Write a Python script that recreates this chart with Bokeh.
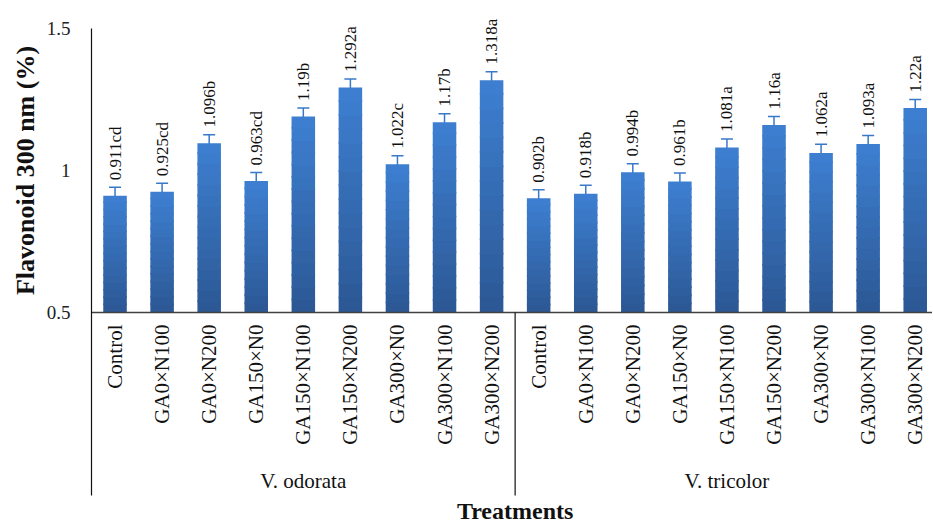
import numpy as np
from math import pi
from bokeh.plotting import figure
from bokeh.models import ColumnDataSource, Whisker, TeeHead, Range1d
from bokeh.core.properties import value
from bokeh.embed import file_html
from bokeh.resources import INLINE

# ---------------- data ----------------
groups = ["V. odorata", "V. tricolor"]
treatments = ["Control", "GA0×N100", "GA0×N200", "GA150×N0", "GA150×N100",
              "GA150×N200", "GA300×N0", "GA300×N100", "GA300×N200"]
odorata_values = [0.911, 0.925, 1.096, 0.963, 1.19, 1.292, 1.022, 1.17, 1.318]
tricolor_values = [0.902, 0.918, 0.994, 0.961, 1.081, 1.16, 1.062, 1.093, 1.22]
odorata_letters = ["cd", "cd", "b", "cd", "b", "a", "c", "b", "a"]
tricolor_letters = ["b", "b", "b", "b", "a", "a", "a", "a", "a"]
odorata_err = [0.03] * 9
tricolor_err = [0.03] * 9
y_ticks = [0.5, 1.0, 1.5]
y_tick_labels = ["0.5", "1", "1.5"]
x_title = "Treatments"
y_title = "Flavonoid 300 nm (%)"

# ---------------- layout constants (pixels) ----------------
W, H = 932, 524
frame_left_px = 91          # y-axis position
px_per_x = 47.07            # pixels per category
px_per_y = 284.0            # pixels per unit of y
axis_px = 312               # pixel row of y = 0.5
base = 0.5

x0 = -frame_left_px / px_per_x
x1 = x0 + W / px_per_x
y_top = base + axis_px / px_per_y
y_bot = y_top - H / px_per_y


def ypix(py):
    """data y for a pixel row measured from the top of the canvas"""
    return base - (py - axis_px) / px_per_y


def xpix(px):
    return (px - frame_left_px) / px_per_x


FONT = "Liberation Serif"
TXT = "#111111"

values = np.array(odorata_values + tricolor_values)
errs = np.array(odorata_err + tricolor_err)
letters = odorata_letters + tricolor_letters
cats = treatments + treatments
n = len(values)
x = np.arange(n) + 0.5
sep = len(odorata_values)
axis_bottom = ypix(495)

p = figure(width=W, height=H, x_range=Range1d(x0, x1),
           y_range=Range1d(y_bot, y_top), output_backend="svg",
           toolbar_location=None, x_axis_location=None, y_axis_location=None,
           min_border=0)
p.outline_line_color = None
p.grid.visible = False
p.background_fill_color = "white"
p.border_fill_color = "white"

# gradient bars (stacked, overlapping slices from dark bottom to light top)
N = 16
top_rgb = np.array([62, 128, 210])
bot_rgb = np.array([44, 88, 148])
xs, bots, tops, cols = [], [], [], []
for i in range(n):
    h = values[i] - base
    for k in range(N):
        f = (k + 0.5) / N
        c = (bot_rgb + (top_rgb - bot_rgb) * f).astype(int)
        xs.append(x[i])
        bots.append(base + h * k / N)
        tops.append(min(base + h * (k + 1) / N + 0.006, values[i]))
        cols.append("#%02x%02x%02x" % tuple(c))
p.vbar(x=xs, bottom=bots, top=tops, width=0.5, fill_color=cols,
       line_color=None)

# error bars
src = ColumnDataSource(dict(x=x, upper=values + errs, lower=values - errs,
                            ly=values + errs + 0.025,
                            txt=[f"{v:g}{l}" for v, l in zip(values, letters)],
                            cat=cats, cy=[ypix(324)] * n))
err_col = "#3a78c8"
p.add_layout(Whisker(base="x", upper="upper", lower="lower", source=src,
                     line_color=err_col, line_width=1.5,
                     upper_head=TeeHead(size=12, line_color=err_col, line_width=1.5),
                     lower_head=TeeHead(size=12, line_color=err_col, line_width=1.5)))

# value labels
p.text(x="x", y="ly", text="txt", source=src, angle=pi / 2,
       text_align="left", text_baseline="middle",
       text_font=value(FONT), text_font_size="17px", text_color=TXT)

# axes lines and group separator
p.segment(x0=[0], x1=[x1], y0=[base], y1=[base], line_color="#404040",
          line_width=1.5)
p.segment(x0=[0, sep], x1=[0, sep], y0=[y_ticks[-1], base],
          y1=[axis_bottom, axis_bottom], line_color=TXT, line_width=1.2)

# y tick labels
p.text(x=[xpix(70)] * len(y_ticks), y=y_ticks, text=y_tick_labels,
       text_align="right", text_baseline="middle", text_font=value(FONT),
       text_font_size="19px", text_color="#222222")

# category tick labels
p.text(x="x", y="cy", text="cat", source=src, angle=pi / 2,
       text_align="right", text_baseline="middle",
       text_font=value(FONT), text_font_size="21px", text_color=TXT)

# group labels
centers = [sep / 2, sep + len(tricolor_values) / 2]
p.text(x=centers, y=[ypix(480)] * 2, text=groups, text_align="center",
       text_baseline="middle", text_font=value(FONT),
       text_font_size="21px", text_color=TXT)

# axis titles
p.text(x=[n / 2], y=[ypix(510)], text=[x_title], text_align="center",
       text_baseline="alphabetic", text_font=value(FONT),
       text_font_size="24px", text_font_style="bold", text_color=TXT)
p.text(x=[xpix(25)], y=[(y_ticks[0] + y_ticks[-1]) / 2], text=[y_title],
       angle=pi / 2, text_align="center", text_baseline="middle",
       text_font=value(FONT), text_font_size="26px",
       text_font_style="bold", text_color=TXT)

open("out.html", "w").write(file_html(p, INLINE))
